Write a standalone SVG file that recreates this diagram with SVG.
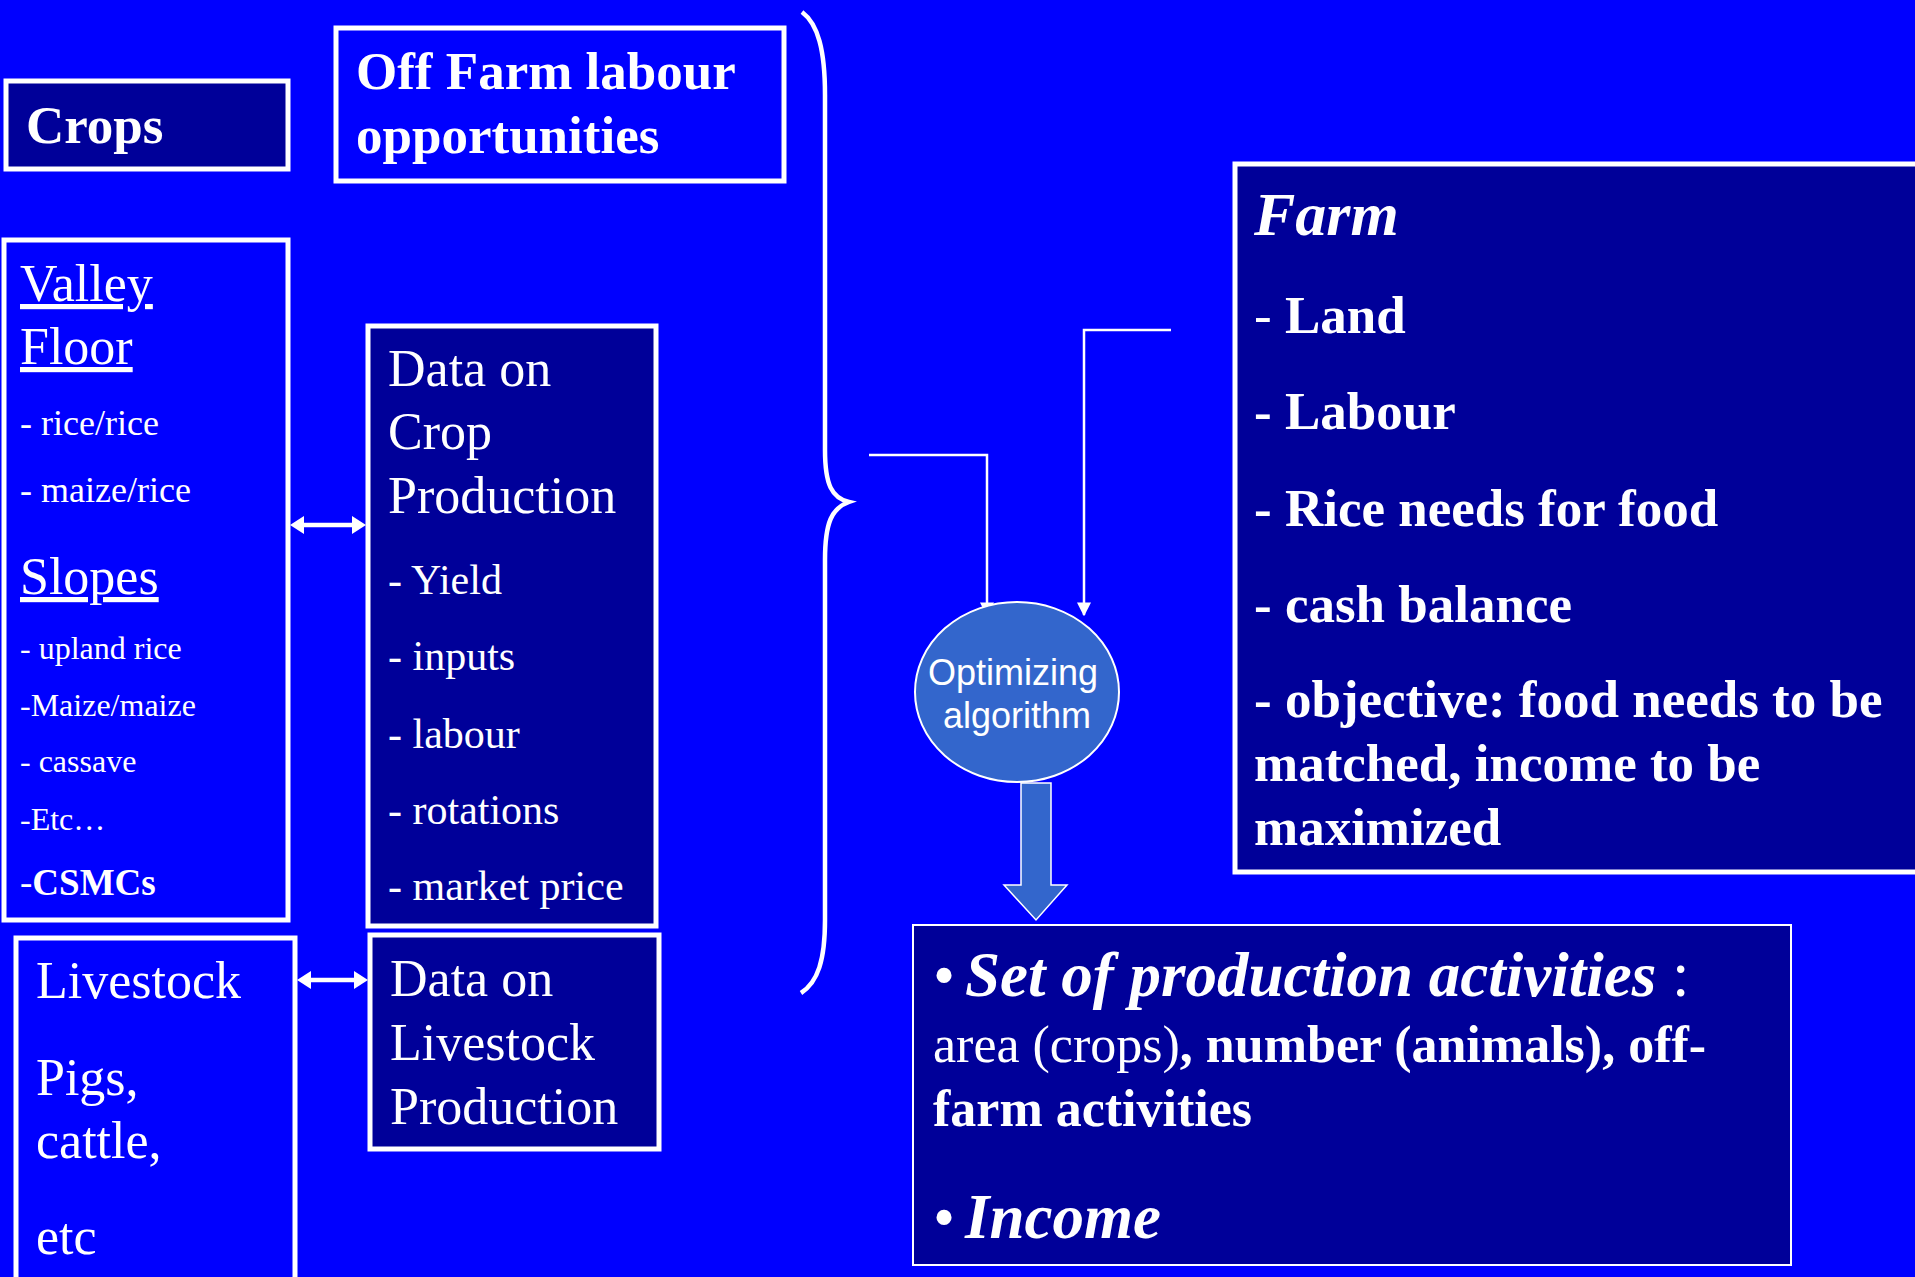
<svg xmlns="http://www.w3.org/2000/svg" width="1915" height="1277" viewBox="0 0 1915 1277">
  <defs>
    <style>
      .bg { fill: #0000FF; }
      .box { stroke: #FFFFFF; stroke-width: 5; }
      .navy { fill: #000099; }
      .blue { fill: #0000FF; }
      .t { font-family: "Liberation Serif", "Times New Roman", serif; fill: #FFFFFF; }
      .b { font-weight: bold; }
      .i { font-style: italic; }
      .u { text-decoration: underline; }
      .sans { font-family: "Liberation Sans", Arial, sans-serif; fill: #FFFFFF; }
      .wire { fill: none; stroke: #FFFFFF; stroke-width: 2.5; }
      .dbl { fill: none; stroke: #FFFFFF; stroke-width: 4.5; }
    </style>
    <marker id="headThin" viewBox="0 0 10 10" refX="9" refY="5" markerWidth="14" markerHeight="14" markerUnits="userSpaceOnUse" orient="auto">
      <path d="M0,0 L10,5 L0,10 Z" fill="#FFFFFF"/>
    </marker>
  </defs>

  <rect class="bg" x="0" y="0" width="1915" height="1277"/>

  <!-- Connectors (drawn first so the optimizer sits on top) -->
  <g id="connectors">
    <!-- brace grouping the inputs -->
    <path class="dbl" stroke-width="4" d="M802,12 C818,24 825,50 825,95 L825,450 C825,485 832,498 849,502 C832,508 825,522 825,560 L825,920 C825,960 818,982 801,993"/>
    <!-- double arrow: crop systems to crop data -->
    <line class="dbl" x1="302" y1="525" x2="354" y2="525"/>
    <path d="M290,525 L304,516 L304,534 Z" fill="#FFFFFF"/>
    <path d="M366,525 L352,516 L352,534 Z" fill="#FFFFFF"/>
    <!-- double arrow: livestock to livestock data -->
    <line class="dbl" x1="309" y1="980" x2="356" y2="980"/>
    <path d="M297,980 L311,971 L311,989 Z" fill="#FFFFFF"/>
    <path d="M368,980 L354,971 L354,989 Z" fill="#FFFFFF"/>
    <!-- inputs to optimizer -->
    <path class="wire" d="M869,455 L987,455 L987,615" marker-end="url(#headThin)"/>
    <path class="wire" d="M1171,330 L1084,330 L1084,615" marker-end="url(#headThin)"/>
    <!-- optimizer to output -->
    <path d="M1021,783 L1051,783 L1051,885 L1067,885 L1036,920 L1004,885 L1021,885 Z" fill="#3366CC" stroke="#FFFFFF" stroke-width="1.5"/>
  </g>

  <!-- Crops title -->
  <g id="crops">
    <rect class="box navy" x="6" y="81" width="282" height="88"/>
    <text class="t b" x="26" y="143" font-size="53">Crops</text>
  </g>

  <!-- Off-farm labour -->
  <g id="offfarm">
    <rect class="box blue" x="336" y="28" width="448" height="153"/>
    <text class="t b" x="356" y="89" font-size="53">Off Farm labour</text>
    <text class="t b" x="356" y="153" font-size="53">opportunities</text>
  </g>

  <!-- Crop systems -->
  <g id="cropsystems">
    <rect class="box blue" x="4" y="240" width="284" height="680"/>
    <text class="t u" x="20" y="301" font-size="52">Valley</text>
    <text class="t u" x="20" y="364" font-size="52">Floor</text>
    <text class="t" x="20" y="435" font-size="36">- rice/rice</text>
    <text class="t" x="20" y="502" font-size="36">- maize/rice</text>
    <text class="t u" x="20" y="594" font-size="52">Slopes</text>
    <text class="t" x="20" y="659" font-size="32">- upland rice</text>
    <text class="t" x="20" y="716" font-size="32">-Maize/maize</text>
    <text class="t" x="20" y="772" font-size="32">- cassave</text>
    <text class="t" x="20" y="830" font-size="32">-Etc…</text>
    <text class="t" x="20" y="895" font-size="37">-<tspan class="b">CSMCs</tspan></text>
  </g>

  <!-- Crop production data -->
  <g id="cropdata">
    <rect class="box navy" x="368" y="326" width="288" height="600"/>
    <text class="t" x="388" y="386" font-size="52">Data on</text>
    <text class="t" x="388" y="449" font-size="52">Crop</text>
    <text class="t" x="388" y="513" font-size="52">Production</text>
    <text class="t" x="388" y="594" font-size="42">- Yield</text>
    <text class="t" x="388" y="670" font-size="42">- inputs</text>
    <text class="t" x="388" y="748" font-size="42">- labour</text>
    <text class="t" x="388" y="824" font-size="42">- rotations</text>
    <text class="t" x="388" y="900" font-size="42">- market price</text>
  </g>

  <!-- Livestock -->
  <g id="livestock">
    <rect class="box blue" x="16" y="938" width="279" height="360"/>
    <text class="t" x="36" y="998" font-size="52">Livestock</text>
    <text class="t" x="36" y="1095" font-size="52">Pigs,</text>
    <text class="t" x="36" y="1158" font-size="52">cattle,</text>
    <text class="t" x="36" y="1254" font-size="52">etc</text>
  </g>

  <!-- Livestock production data -->
  <g id="livestockdata">
    <rect class="box navy" x="370" y="935" width="289" height="214"/>
    <text class="t" x="390" y="996" font-size="52">Data on</text>
    <text class="t" x="390" y="1060" font-size="52">Livestock</text>
    <text class="t" x="390" y="1124" font-size="52">Production</text>
  </g>

  <!-- Farm resources and objective -->
  <g id="farm">
    <rect class="box navy" x="1235" y="164" width="700" height="708"/>
    <text class="t b i" x="1254" y="235" font-size="62">Farm</text>
    <text class="t b" x="1254" y="333" font-size="53"><tspan font-weight="normal">- </tspan>Land</text>
    <text class="t b" x="1254" y="429" font-size="53">- Labour</text>
    <text class="t b" x="1254" y="526" font-size="53">- Rice needs for food</text>
    <text class="t b" x="1254" y="622" font-size="53">- cash balance</text>
    <text class="t b" x="1254" y="717" font-size="53">- objective: food needs to be</text>
    <text class="t b" x="1254" y="781" font-size="53">matched, income to be</text>
    <text class="t b" x="1254" y="845" font-size="53">maximized</text>
  </g>

  <!-- Optimizer -->
  <g id="optimizer">
    <ellipse cx="1017" cy="692" rx="102" ry="90" fill="#3366CC" stroke="#FFFFFF" stroke-width="2"/>
    <text class="sans" x="1013" y="685" font-size="36" text-anchor="middle">Optimizing</text>
    <text class="sans" x="1017" y="728" font-size="36" text-anchor="middle">algorithm</text>
  </g>

  <!-- Model output -->
  <g id="output">
    <rect x="913" y="925" width="878" height="340" fill="#000099" stroke="#FFFFFF" stroke-width="2"/>
    <text class="t" x="933" y="996" font-size="63">•<tspan class="b i" dx="10">Set of production activities</tspan> :</text>
    <text class="t" x="933" y="1062" font-size="52">area (crops)<tspan class="b">, number (animals), off-</tspan></text>
    <text class="t b" x="933" y="1126" font-size="52">farm activities</text>
    <text class="t" x="933" y="1238" font-size="63">•<tspan class="b i" dx="10">Income</tspan></text>
  </g>
</svg>
